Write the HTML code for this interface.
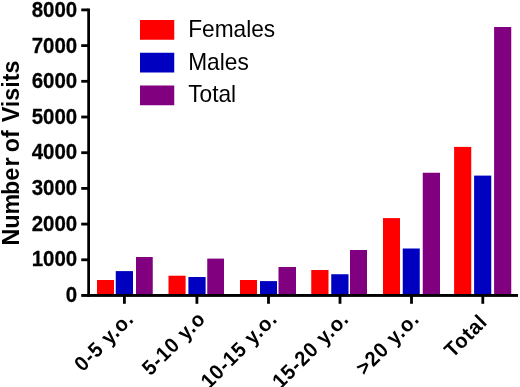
<!DOCTYPE html>
<html><head><meta charset="utf-8"><title>Number of Visits</title>
<style>
html,body{margin:0;padding:0;background:#fff;}
svg{display:block;}
text{font-family:"Liberation Sans",Arial,sans-serif;fill:#000;}
.b{font-weight:bold;}
.s{stroke:#000;stroke-width:0.25px;stroke-linejoin:round;}
</style></head><body>
<svg width="520" height="387" viewBox="0 0 520 387">
<rect width="520" height="387" fill="#fff"/>
<rect x="97" y="280" width="17.00" height="15.50" fill="#ff0000"/>
<rect x="115.75" y="271.1" width="17.25" height="24.40" fill="#0000c0"/>
<rect x="136" y="257" width="16.75" height="38.50" fill="#800080"/>
<rect x="168.5" y="275.7" width="17.10" height="19.80" fill="#ff0000"/>
<rect x="188.4" y="277" width="17.20" height="18.50" fill="#0000c0"/>
<rect x="207.25" y="258.6" width="16.75" height="36.90" fill="#800080"/>
<rect x="240" y="280" width="17.00" height="15.50" fill="#ff0000"/>
<rect x="260" y="281.1" width="17.00" height="14.40" fill="#0000c0"/>
<rect x="278.5" y="267" width="17.50" height="28.50" fill="#800080"/>
<rect x="311.25" y="270" width="17.25" height="25.50" fill="#ff0000"/>
<rect x="331.25" y="274.25" width="17.25" height="21.25" fill="#0000c0"/>
<rect x="350" y="250" width="17.00" height="45.50" fill="#800080"/>
<rect x="383" y="218.1" width="17.00" height="77.40" fill="#ff0000"/>
<rect x="402.75" y="248.5" width="17.00" height="47.00" fill="#0000c0"/>
<rect x="422.75" y="172.75" width="17.25" height="122.75" fill="#800080"/>
<rect x="454.1" y="146.9" width="17.15" height="148.60" fill="#ff0000"/>
<rect x="474.1" y="175.6" width="17.15" height="119.90" fill="#0000c0"/>
<rect x="494.1" y="27" width="17.15" height="268.50" fill="#800080"/>
<g fill="#000">
<rect x="87.25" y="8.5" width="2.75" height="288.4"/>
<rect x="81.25" y="294" width="436.75" height="2.9"/>
<rect x="81.25" y="8.50" width="7" height="2.8"/>
<rect x="81.25" y="44.20" width="7" height="2.8"/>
<rect x="81.25" y="79.90" width="7" height="2.8"/>
<rect x="81.25" y="115.60" width="7" height="2.8"/>
<rect x="81.25" y="151.30" width="7" height="2.8"/>
<rect x="81.25" y="187.00" width="7" height="2.8"/>
<rect x="81.25" y="222.70" width="7" height="2.8"/>
<rect x="81.25" y="258.40" width="7" height="2.8"/>
<rect x="123.00" y="295" width="2.8" height="8.8"/>
<rect x="195.50" y="295" width="2.8" height="8.8"/>
<rect x="267.10" y="295" width="2.8" height="8.8"/>
<rect x="338.60" y="295" width="2.8" height="8.8"/>
<rect x="410.10" y="295" width="2.8" height="8.8"/>
<rect x="481.40" y="295" width="2.8" height="8.8"/>
</g>
<text class="b s" transform="translate(77.2,16.95) scale(0.935,1)" font-size="21.9" text-anchor="end">8000</text>
<text class="b s" transform="translate(77.2,52.55) scale(0.935,1)" font-size="21.9" text-anchor="end">7000</text>
<text class="b s" transform="translate(77.2,88.15) scale(0.935,1)" font-size="21.9" text-anchor="end">6000</text>
<text class="b s" transform="translate(77.2,123.75) scale(0.935,1)" font-size="21.9" text-anchor="end">5000</text>
<text class="b s" transform="translate(77.2,159.35) scale(0.935,1)" font-size="21.9" text-anchor="end">4000</text>
<text class="b s" transform="translate(77.2,194.95) scale(0.935,1)" font-size="21.9" text-anchor="end">3000</text>
<text class="b s" transform="translate(77.2,230.55) scale(0.935,1)" font-size="21.9" text-anchor="end">2000</text>
<text class="b s" transform="translate(77.2,266.15) scale(0.935,1)" font-size="21.9" text-anchor="end">1000</text>
<text class="b s" transform="translate(77.2,301.75) scale(0.935,1)" font-size="21.9" text-anchor="end">0</text>
<text class="b" transform="translate(18.6,153.0) rotate(-90) scale(0.985,1)" font-size="23.7" text-anchor="middle" dx="0 0 0 -1.4 0 1.4 0 -1.4 0 0 1.4">Number of Visits</text>
<text class="b" transform="translate(135.10,320.10) rotate(-45) scale(0.961,1)" font-size="20.8" letter-spacing="0.88" text-anchor="end">0-5 y.o.</text>
<text class="b" transform="translate(206.78,320.10) rotate(-45) scale(0.961,1)" font-size="20.8" letter-spacing="0.88" text-anchor="end">5-10 y.o</text>
<text class="b" transform="translate(278.46,320.10) rotate(-45) scale(0.961,1)" font-size="20.8" letter-spacing="0.88" text-anchor="end">10-15 y.o.</text>
<text class="b" transform="translate(350.14,320.10) rotate(-45) scale(0.961,1)" font-size="20.8" letter-spacing="0.88" text-anchor="end">15-20 y.o.</text>
<text class="b" transform="translate(420.42,320.30) rotate(-45) scale(0.961,1)" font-size="20.8" letter-spacing="0.88" text-anchor="end">&gt;20 y.o.</text>
<text class="b" transform="translate(488.50,322.90) rotate(-45) scale(0.961,1)" font-size="20.8" letter-spacing="0.88" text-anchor="end">Total</text>
<rect x="140" y="20.0" width="34.25" height="19.75" fill="#ff0000"/>
<text transform="translate(188.2,36.75) scale(0.962,1)" font-size="23.6">Females</text>
<rect x="140" y="52.75" width="34.25" height="19.75" fill="#0000c0"/>
<text transform="translate(188.2,69.55) scale(0.962,1)" font-size="23.6">Males</text>
<rect x="140" y="85.5" width="34.25" height="19.75" fill="#800080"/>
<text transform="translate(188.2,102.35) scale(0.962,1)" font-size="23.6">Total</text>
</svg>
</body></html>
